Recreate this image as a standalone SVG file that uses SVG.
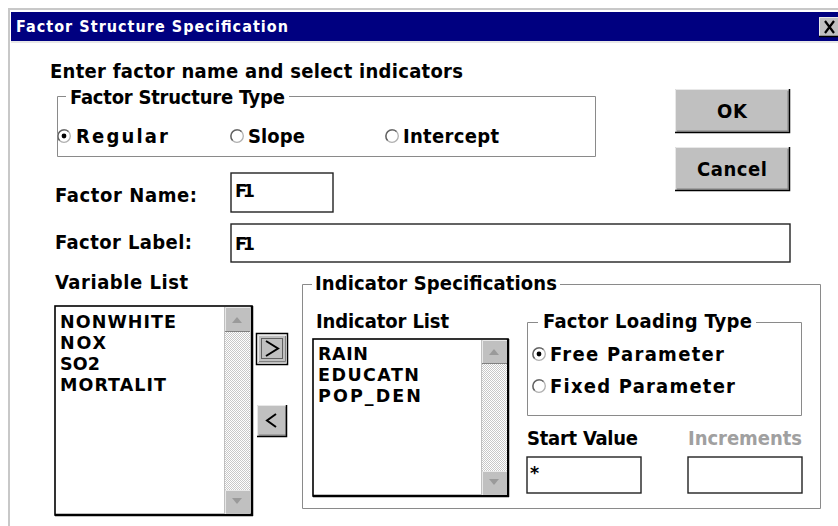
<svg xmlns="http://www.w3.org/2000/svg" width="838" height="526" viewBox="0 0 838 526">
<style>
  text { font-family: "DejaVu Sans Condensed", "DejaVu Sans", "Liberation Sans", sans-serif; font-stretch: condensed; font-weight: bold; fill: #000; }
  .lbl { font-size: 20px; }
  .itm { font-size: 17.5px; font-family: "DejaVu Sans", "Liberation Sans", sans-serif; font-stretch: normal; }
  .title { font-size: 16px; fill: #fff; }
  .dis { fill: #a0a0a0; }
  .grp { fill: none; stroke: #8a8a8a; stroke-width: 1; }
  .edit { fill: #fff; stroke: #222; stroke-width: 1.4; }
  .lst { fill: #fff; stroke: #000; stroke-width: 1.6; }
  .face { fill: #c0c0c0; }
  .hi { fill: none; stroke: #e8e8e8; stroke-width: 1; }
  .sh { fill: none; stroke: #808080; stroke-width: 1; }
  .dk { fill: none; stroke: #000; stroke-width: 1.5; }
  .rad { fill: #fff; stroke: #b0b0b0; stroke-width: 1.3; }
  .radsh { fill: none; stroke: #606060; stroke-width: 1.3; }
  .arr { fill: #9a9a9a; }
</style>
<defs>
  <pattern id="chk" width="2" height="2" patternUnits="userSpaceOnUse">
    <rect width="2" height="2" fill="#ffffff"/>
    <rect width="1" height="1" fill="#c8c8c8"/>
    <rect x="1" y="1" width="1" height="1" fill="#c8c8c8"/>
  </pattern>
  <g id="radio">
    <circle class="rad" cx="0" cy="0" r="6.3"/>
    <path class="radsh" d="M4.45 -4.45 A6.3 6.3 0 0 0 -4.45 4.45"/>
  </g>
</defs>

<rect width="838" height="526" fill="#fff"/>

<!-- window frame -->
<g id="frame">
  <line x1="8" y1="9" x2="838" y2="9" stroke="#c8c8c8" stroke-width="2"/>
  <line x1="9" y1="8" x2="9" y2="526" stroke="#c8c8c8" stroke-width="2"/>
  <rect x="11" y="12" width="827" height="29" fill="#000080"/>
  <line x1="11" y1="42" x2="838" y2="42" stroke="#d0d0d0" stroke-width="1"/>
  <text class="title" x="16" y="32" textLength="272">Factor Structure Specification</text>
</g>

<g id="close-button">
  <rect x="819" y="17" width="19" height="20" class="face"/>
  <polyline points="819.5,37 819.5,17.5 838,17.5" class="hi"/>
  <polyline points="819,36.5 838,36.5" class="dk"/>
  <path d="M825 21 L834 33 M834 21 L825 33" stroke="#000" stroke-width="2.2" fill="none"/>
</g>

<g id="instructions">
  <text class="lbl" x="50" y="78" textLength="413">Enter factor name and select indicators</text>
</g>

<!-- Factor Structure Type group -->
<g id="factor-structure-type">
  <path class="grp" d="M66 96.5 H57.5 V156.5 H595.5 V96.5 H289"/>
  <text class="lbl" x="70" y="104" textLength="215">Factor Structure Type</text>
  <use href="#radio" x="64" y="136"/>
  <circle cx="64" cy="136" r="2.4" fill="#000"/>
  <text class="lbl" x="76" y="143" textLength="92">Regular</text>
  <use href="#radio" x="237" y="136"/>
  <text class="lbl" x="248" y="143" textLength="57">Slope</text>
  <use href="#radio" x="392" y="136"/>
  <text class="lbl" x="403" y="143" textLength="96">Intercept</text>
</g>

<!-- OK button -->
<g id="ok-button">
  <rect x="675" y="89" width="115" height="44" class="face"/>
  <polyline points="675.5,133 675.5,89.5 790,89.5" class="hi"/>
  <polyline points="677,131 788,131 788,91" class="sh"/>
  <polyline points="675,132.5 789.5,132.5 789.5,89" class="dk"/>
  <text class="lbl" x="732" y="118" text-anchor="middle" textLength="30">OK</text>
</g>

<!-- Cancel button -->
<g id="cancel-button">
  <rect x="675" y="147" width="115" height="44" class="face"/>
  <polyline points="675.5,191 675.5,147.5 790,147.5" class="hi"/>
  <polyline points="677,189 788,189 788,149" class="sh"/>
  <polyline points="675,190.5 789.5,190.5 789.5,147" class="dk"/>
  <text class="lbl" x="732" y="176" text-anchor="middle" textLength="70">Cancel</text>
</g>

<!-- Factor Name -->
<g id="factor-name">
  <text class="lbl" x="55" y="202" textLength="142">Factor Name:</text>
  <rect class="edit" x="231" y="173" width="102" height="39"/>
  <text class="itm" x="235" y="197" textLength="20">F1</text>
</g>

<!-- Factor Label -->
<g id="factor-label">
  <text class="lbl" x="55" y="249" textLength="137">Factor Label:</text>
  <rect class="edit" x="231" y="224" width="559" height="38"/>
  <text class="itm" x="235" y="250" textLength="20">F1</text>
</g>

<!-- Variable List -->
<g id="variable-list">
  <text class="lbl" x="55" y="289" textLength="133">Variable List</text>
  <rect class="lst" x="55" y="306" width="197" height="209"/>
  <line x1="55" y1="515" x2="253" y2="515" stroke="#000" stroke-width="2.5"/>
  <line x1="252" y1="306" x2="252" y2="516" stroke="#000" stroke-width="2.5"/>
  <rect x="225" y="307" width="25" height="207" fill="url(#chk)"/>
  <line x1="224.5" y1="307" x2="224.5" y2="514" stroke="#c0c0c0" stroke-width="1"/>
  <rect x="225" y="307" width="25" height="25" class="face"/>
  <polyline points="225.5,332 225.5,307.5 250,307.5" class="hi"/>
  <polyline points="225,331.5 250,331.5" class="sh"/>
  <path class="arr" d="M232 323 L242 323 L237 317 Z"/>
  <rect x="225" y="490" width="25" height="24" class="face"/>
  <polyline points="225.5,514 225.5,490.5 250,490.5" class="hi"/>
  <path class="arr" d="M232 498 L242 498 L237 504 Z"/>
  <text class="itm" x="60" y="328" textLength="116">NONWHITE</text>
  <text class="itm" x="60" y="349" textLength="46">NOX</text>
  <text class="itm" x="60" y="370" textLength="40">SO2</text>
  <text class="itm" x="60" y="391" textLength="106">MORTALIT</text>
</g>

<!-- add button -->
<g id="add-button">
  <rect x="256.5" y="333.5" width="31" height="31" fill="none" stroke="#000" stroke-width="1.5"/>
  <rect x="258" y="335" width="28" height="28" class="face"/>
  <polyline points="258.5,362 258.5,335.5 286,335.5" class="hi"/>
  <polyline points="259,361.5 285.5,361.5 285.5,336" class="sh"/>
  <rect x="261.5" y="338.5" width="21" height="20" fill="none" stroke="#000" stroke-width="1" stroke-dasharray="1,1"/>
  <path d="M266 341 L278 348.5 L266 356" fill="none" stroke="#000" stroke-width="2"/>
</g>

<!-- remove button -->
<g id="remove-button">
  <rect x="257" y="405" width="30" height="32" class="face"/>
  <polyline points="257.5,437 257.5,405.5 287,405.5" class="hi"/>
  <polyline points="259,435 286,435 286,407" class="sh"/>
  <polyline points="257,436.5 286.5,436.5 286.5,405" class="dk"/>
  <path d="M276 414 L267 420.5 L276 427" fill="none" stroke="#000" stroke-width="2"/>
</g>

<!-- Indicator Specifications group -->
<g id="indicator-specifications">
  <path class="grp" d="M312 284.5 H302.5 V508.5 H820.5 V284.5 H560"/>
  <text class="lbl" x="315" y="290" textLength="242">Indicator Specifications</text>
</g>

<!-- Indicator List -->
<g id="indicator-list">
  <text class="lbl" x="316" y="328" textLength="133">Indicator List</text>
  <rect class="lst" x="313" y="339" width="195" height="157"/>
  <line x1="313" y1="496" x2="509" y2="496" stroke="#000" stroke-width="2.5"/>
  <line x1="508" y1="339" x2="508" y2="497" stroke="#000" stroke-width="2.5"/>
  <rect x="482" y="340" width="25" height="155" fill="url(#chk)"/>
  <line x1="481.5" y1="340" x2="481.5" y2="495" stroke="#c0c0c0" stroke-width="1"/>
  <rect x="482" y="340" width="25" height="24" class="face"/>
  <polyline points="482.5,364 482.5,340.5 507,340.5" class="hi"/>
  <polyline points="482,363.5 507,363.5" class="sh"/>
  <path class="arr" d="M489 355 L499 355 L494 349 Z"/>
  <rect x="482" y="471" width="25" height="24" class="face"/>
  <polyline points="482.5,495 482.5,471.5 507,471.5" class="hi"/>
  <path class="arr" d="M489 479 L499 479 L494 485 Z"/>
  <text class="itm" x="318" y="360" textLength="50">RAIN</text>
  <text class="itm" x="318" y="381" textLength="101">EDUCATN</text>
  <text class="itm" x="318" y="402" textLength="103">POP_DEN</text>
</g>

<!-- Factor Loading Type group -->
<g id="factor-loading-type">
  <path class="grp" d="M538 322.5 H527.5 V415.5 H801.5 V322.5 H756"/>
  <text class="lbl" x="543" y="328" textLength="209">Factor Loading Type</text>
  <use href="#radio" x="539" y="354"/>
  <circle cx="539" cy="354" r="2.4" fill="#000"/>
  <text class="lbl" x="550" y="361" textLength="174">Free Parameter</text>
  <use href="#radio" x="539" y="386"/>
  <text class="lbl" x="550" y="393" textLength="185">Fixed Parameter</text>
</g>

<!-- Start Value -->
<g id="start-value">
  <text class="lbl" x="527" y="445" textLength="111">Start Value</text>
  <rect class="edit" x="527" y="457" width="114" height="36"/>
  <text class="itm" x="530" y="479">*</text>
</g>

<!-- Increments -->
<g id="increments">
  <text class="lbl dis" x="688" y="445" textLength="114">Increments</text>
  <rect class="edit" x="688" y="457" width="114" height="36"/>
</g>
</svg>
